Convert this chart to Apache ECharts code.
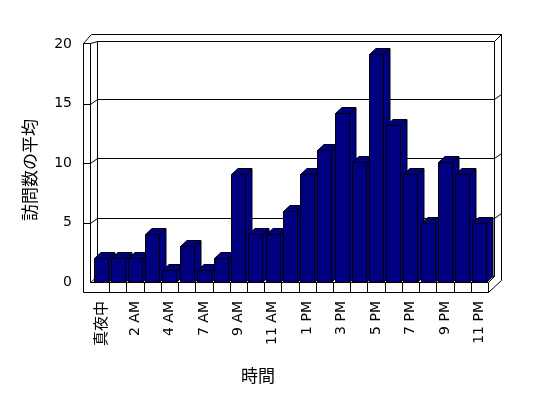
<!DOCTYPE html>
<html>
<head>
<meta charset="utf-8">
<script src="https://cdn.jsdelivr.net/npm/echarts@6/dist/echarts.min.js"></script>
<style>html,body{margin:0;padding:0;background:#fff}#c{width:548px;height:398px}</style>
</head>
<body>
<div id="c"></div>
<script>
// ---- data ----
var categories = ['真夜中','1 AM','2 AM','3 AM','4 AM','5 AM','7 AM','8 AM','9 AM','10 AM','11 AM','正午','1 PM','2 PM','3 PM','4 PM','5 PM','6 PM','7 PM','8 PM','9 PM','10 PM','11 PM'];
var visits = [2, 2, 2, 4, 1, 3, 1, 2, 9.1, 4, 4, 6, 9.1, 11.1, 14.2, 10.1, 19.2, 13.2, 9.1, 5, 10.1, 9.1, 5];
var yTicks = [0, 5, 10, 15, 20];
var xTitle = '時間';
var yTitle = '訪問数の平均';

var NAVY = '#000080';
var LINE = {stroke: '#000', lineWidth: 1, fill: null};
function h(v){ return Math.round(v) + 0.5; }

function line(x1,y1,x2,y2){
  return {type:'line', shape:{x1:h(x1),y1:h(y1),x2:h(x2),y2:h(y2)}, style:LINE, silent:true};
}
function poly(pts){
  return {type:'polyline', shape:{points:pts.map(function(p){return [h(p[0]),h(p[1])];})}, style:LINE, silent:true};
}

function renderWalls(params, api){
  var cs = params.coordSys;
  var L = cs.x, R = cs.x + cs.width, T = cs.y, B = cs.y + cs.height;
  var ch = [];
  var lo = L - 9, li = L - 2;       // left wall outer / inner front edge
  var bl = L + 5, br = R + 6;       // back wall inner left / right
  var bt = T - 3, bb = B - 6;       // back wall inner top / bottom
  var ot = T - 10, orr = R + 13;    // outer top / outer right
  // left wall
  ch.push(line(lo, T - 1, lo, B + 10));
  ch.push(line(li, T - 1, li, B));
  ch.push(line(lo, T - 1, li, T - 1));
  ch.push(poly([[lo, T - 1],[lo + 8, ot],[orr, ot],[orr, B - 2],[R, B + 10]]));
  ch.push(poly([[li, T - 1],[bl, bt],[br, bt],[orr, ot]]));
  ch.push(line(bl, bt, bl, bb));
  ch.push(line(br, bt, br, bb));
  // floor
  ch.push(line(lo, B + 10, R, B + 10));
  ch.push(line(li, B, R, B));
  ch.push(line(li, B, bl, bb));
  ch.push(line(bl, bb, br, bb));
  ch.push(line(R, B, br, bb));
  ch.push(line(R, B, R, B + 10));
  // floor dividers at category boundaries
  var band = api.size([1, 0])[0];
  for (var k = 1; k < categories.length; k++) {
    var x = api.coord([0, 0])[0] - band / 2 + k * band;
    ch.push(line(x, B, x, B + 10));
  }
  // gridlines on the back and left walls
  yTicks.forEach(function(v){
    var yf = api.coord([0, v])[1];
    if (v > 0 && v < 20) {
      ch.push(line(lo, yf, li, yf));
      ch.push(line(li, yf, bl, yf - 5));
      ch.push(line(bl, yf - 5, br, yf - 5));
      ch.push(line(br, yf - 5, orr, yf - 10));
    }
  });
  return {type:'group', children: ch};
}

function renderBar(params, api){
  var i = api.value(0), v = api.value(1);
  var band = api.size([1, 0])[0];
  var top = api.coord([i, v]);
  var base = api.coord([i, 0]);
  var w = Math.round(band * 0.81);
  var x0 = Math.round(base[0] - band / 2 + 1.5) + 0.5;
  var yT = h(top[1]), yB = h(base[1]);
  var dx = 6.5, dy = 6;
  var st = {fill: NAVY, stroke: '#000', lineWidth: 1};
  return {type:'group', children:[
    {type:'polygon', shape:{points:[[x0+w,yT],[x0+w+dx,yT-dy],[x0+w+dx,yB-dy],[x0+w,yB]]}, style:st},
    {type:'polygon', shape:{points:[[x0,yT],[x0+dx,yT-dy],[x0+w+dx,yT-dy],[x0+w,yT]]}, style:st},
    {type:'rect', shape:{x:x0, y:yT, width:w, height:yB-yT}, style:st}
  ]};
}

var chart = echarts.init(document.getElementById('c'), null, {renderer:'canvas'});
chart.setOption({
  animation: false,
  backgroundColor: '#fff',
  grid: {left: 92, right: 60, top: 44, bottom: 116, containLabel: false},
  xAxis: {
    type: 'category', data: categories,
    axisLine:{show:false}, axisTick:{show:false}, splitLine:{show:false},
    axisLabel:{
      interval:1, rotate:90, margin:19, color:'#000', fontSize:14, fontFamily:'DejaVu Sans',
      formatter: function(v){ return /[A-Za-z0-9]/.test(v) ? v : '{j|' + v + '}'; },
      rich: {j: {fontFamily:'Noto Sans CJK JP', fontSize:15, color:'#000'}}
    }
  },
  yAxis: {
    type: 'value', min: 0, max: 20, interval: 5,
    axisLine:{show:false}, axisTick:{show:false}, splitLine:{show:false},
    axisLabel:{margin:20, color:'#000', fontSize:14, fontFamily:'DejaVu Sans'}
  },
  graphic: [
    {type:'text', x:258, y:376, style:{text:xTitle, align:'center', verticalAlign:'middle', fill:'#000', font:'17px "Noto Sans CJK JP"'}},
    {type:'text', x:30, y:170, rotation:Math.PI/2, style:{text:yTitle, align:'center', verticalAlign:'middle', fill:'#000', font:'17px "Noto Sans CJK JP"'}}
  ],
  series: [
    {type:'custom', renderItem: renderWalls, data: [[0, 0]], silent:true, z:1},
    {type:'custom', renderItem: renderBar, data: visits.map(function(v, i){ return [i, v]; }), z:2}
  ]
});
</script>
</body>
</html>
